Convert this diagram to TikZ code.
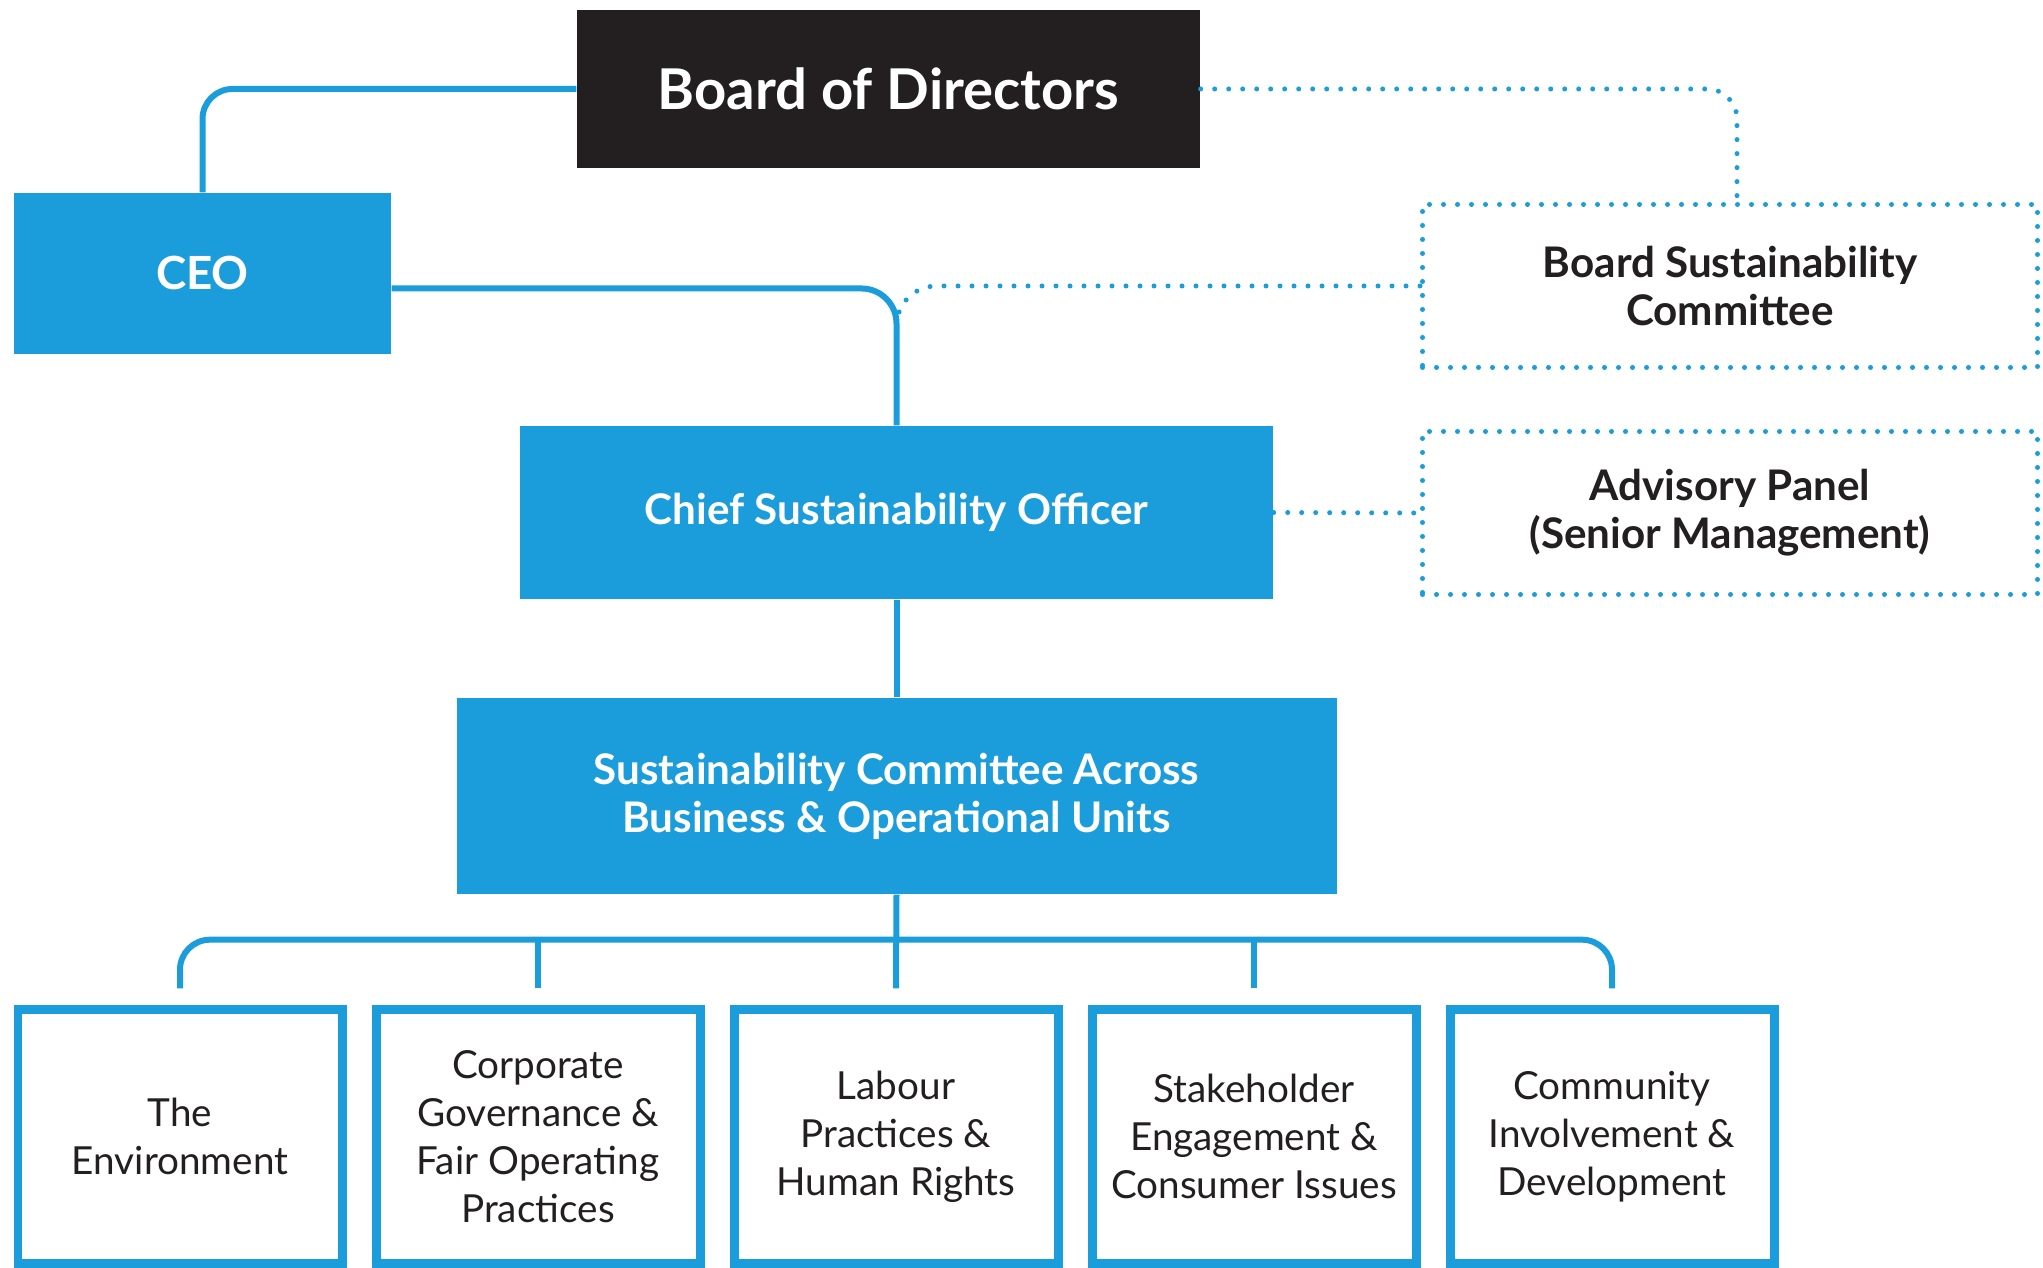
\documentclass[tikz,border=0pt]{standalone}
\usepackage{fontspec}
\setmainfont{Lato}
\usetikzlibrary{calc}
\definecolor{csrblue}{RGB}{28,157,219}
\definecolor{boardblack}{RGB}{35,31,32}

\begin{document}
\begin{tikzpicture}[
    solidbox/.style={fill=csrblue, text=white, align=center, inner sep=0pt,
        font=\bfseries\fontsize{12}{13.7}\selectfont},
    dotbox/.style={draw=csrblue, line width=0.05cm, line cap=round,
        dash pattern=on 0pt off 0.14cm, text=boardblack, align=center, inner sep=0pt,
        minimum width=6.15cm, minimum height=1.63cm,
        font=\bfseries\fontsize{12}{13.7}\selectfont},
    areabox/.style={draw=csrblue, line width=0.09cm, text=boardblack, align=center,
        minimum width=3.24cm, minimum height=2.54cm, inner sep=0pt,
        font=\fontsize{11}{13.7}\selectfont},
    link/.style={draw=csrblue, line width=0.06cm},
    dotlink/.style={draw=csrblue, line width=0.05cm, line cap=round,
        dash pattern=on 0pt off 0.14cm}
]
    % Page
    \fill[white] (0,0) rectangle (20.43,12.68);
    \useasboundingbox (0,0) rectangle (20.43,12.68);

    % Top of the structure
    \node[fill=boardblack, text=white, minimum width=6.23cm, minimum height=1.58cm,
        font=\bfseries\fontsize{16}{19}\selectfont] (board) at (8.885,11.79) {Board of Directors};
    \node[solidbox, minimum width=3.77cm, minimum height=1.61cm,
        font=\bfseries\fontsize{13}{15}\selectfont] (ceo) at (2.025,9.945) {CEO};
    \node[dotbox] (bsc) at (17.30,9.82) {Board Sustainability\\Committee};

    % Middle
    \node[solidbox, minimum width=7.53cm, minimum height=1.73cm] (cso) at (8.965,7.555) {Chief Sustainability Officer};
    \node[dotbox] (adv) at (17.30,7.55) {Advisory Panel\\(Senior Management)};
    \node[solidbox, minimum width=8.80cm, minimum height=1.96cm] (sc) at (8.965,4.72)
        {Sustainability Committee Across\\Business \& Operational Units};

    % Focus areas
    \node[areabox] (area1) at (1.80,1.315) {The\\Environment};
    \node[areabox] (area2) at (5.38,1.315) {Corporate\\Governance \&\\Fair Operating\\Practices};
    \node[areabox] (area3) at (8.96,1.315) {Labour\\Practices \&\\Human Rights};
    \node[areabox] (area4) at (12.54,1.315) {Stakeholder\\Engagement \&\\Consumer Issues};
    \node[areabox] (area5) at (16.12,1.315) {Community\\Involvement \&\\Development};

    % Helper points
    \coordinate (join) at ($(cso.north)+(0,1.0)$);
    \coordinate (bus) at ($(sc.south)+(0,-0.45)$);
    \foreach \i in {1,...,5}
        \coordinate (top\i) at ($(area\i.north)+(0,0.165)$);

    % Solid reporting lines
    \draw[link, rounded corners=0.3cm] (board.west) -| (ceo.north);
    \draw[link, rounded corners=0.35cm] ([yshift=-1.5mm]ceo.east) -| (cso.north);
    \draw[link] (cso.south) -- (sc.north);
    \draw[link] (sc.south) -- (top3);
    \draw[link, rounded corners=0.3cm] (top1) |- (bus) -| (top5);
    \draw[link] (top2) -- (top2 |- bus);
    \draw[link] (top4) -- (top4 |- bus);

    % Dotted lines
    \draw[dotlink, rounded corners=0.3cm] (board.east) -| ([xshift=0.7mm]bsc.north);
    \draw[dotlink, rounded corners=0.4cm] (bsc.west) -| (join);
    \draw[dotlink] (cso.east) -- (adv.west);
\end{tikzpicture}
\end{document}
